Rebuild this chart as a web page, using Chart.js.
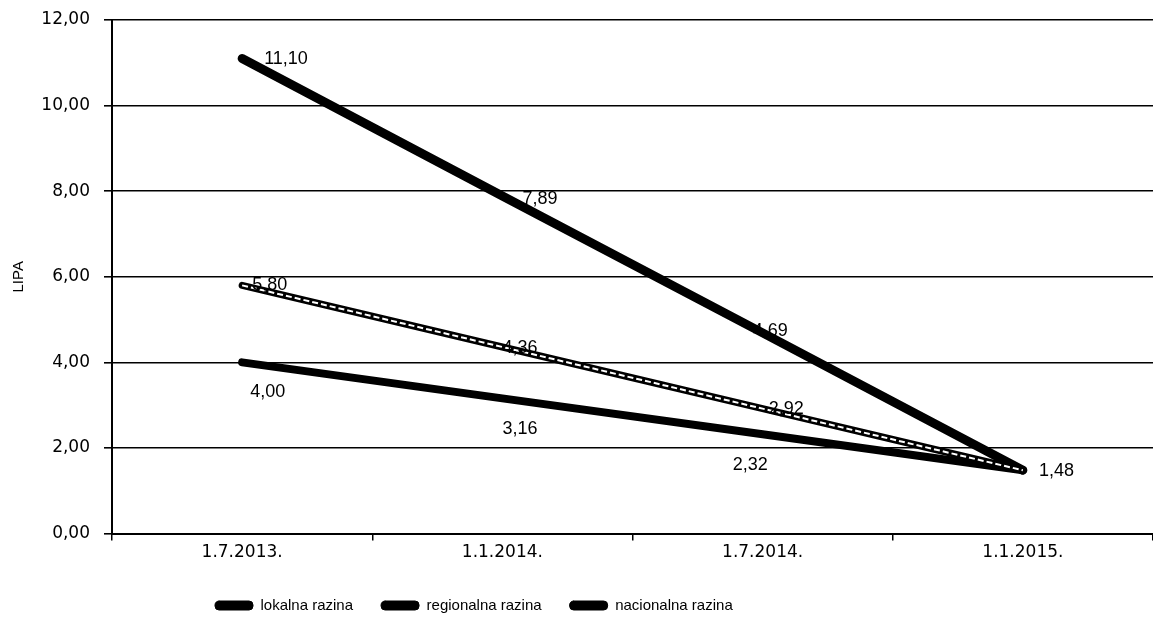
<html lang="hr">
<head>
<meta charset="UTF-8" />
<title>LIPA</title>
<script src="https://cdn.jsdelivr.net/npm/chart.js"></script>
<style>
  body { margin: 0; background: #fff; }
  #wrap { width: 1153px; height: 618px; }
</style>
</head>
<body>
<div id="wrap"><canvas id="chart"></canvas></div>
<script>
  const categories = ["1.7.2013.", "1.1.2014.", "1.7.2014.", "1.1.2015."];
  const lokalna = [11.10, 7.89, 4.69, 1.48];
  const regionalna = [5.80, 4.36, 2.92, 1.48];
  const nacionalna = [4.00, 3.16, 2.32, 1.48];
  const seriesNames = ["lokalna razina", "regionalna razina", "nacionalna razina"];
  const yTicks = [0, 2, 4, 6, 8, 10, 12];

  const fmt = (v) => v.toFixed(2).replace(".", ",");
  const tickFont = { family: "'DejaVu Sans', sans-serif", size: 17 };

  // label offsets per series, per point [dx, dy]
  const labelOffsets = [
    [[22, 1], [20, 3], [-10, -2], null],
    [[10, 0], [0, 1], [6, 0], null],
    [[8, 30], [0, 31], [-30, 31], [16, 1]],
  ];

  const valueLabels = {
    id: "valueLabels",
    beforeDraw(chart) {
      // legend sits left of centre and a little lower in the original
      const lg = chart.legend;
      const w = lg.right - lg.left;
      lg.left = 187;
      lg.right = 187 + w;
      lg.top += 5;
      lg.bottom += 5;
    },
    afterDatasetsDraw(chart) {
      const ctx = chart.ctx;
      // white dashed core of the regional line
      const reg = chart.getDatasetMeta(1);
      ctx.save();
      ctx.strokeStyle = "#fff";
      ctx.lineWidth = 2;
      ctx.setLineDash([6, 3]);
      ctx.beginPath();
      reg.data.forEach((p, i) => (i ? ctx.lineTo(p.x, p.y) : ctx.moveTo(p.x, p.y)));
      ctx.stroke();
      ctx.restore();

      ctx.save();
      ctx.font = "18px 'Liberation Sans', Arial, sans-serif";
      ctx.fillStyle = "#000";
      ctx.textAlign = "left";
      ctx.textBaseline = "middle";
      chart.data.datasets.forEach((ds, di) => {
        const meta = chart.getDatasetMeta(di);
        meta.data.forEach((pt, i) => {
          const off = labelOffsets[di][i];
          if (!off) return;
          ctx.fillText(fmt(ds.data[i]), pt.x + off[0], pt.y + off[1]);
        });
      });
      ctx.restore();
    },
  };

  new Chart(document.getElementById("chart"), {
    type: "line",
    data: {
      labels: categories,
      datasets: [
        {
          label: seriesNames[0],
          data: lokalna,
          borderColor: "#000",
          backgroundColor: "#000",
          borderWidth: 9,
          pointRadius: 0,
          borderCapStyle: "round",
          order: 1,
        },
        {
          label: seriesNames[1],
          data: regionalna,
          borderColor: "#000",
          backgroundColor: "#000",
          borderWidth: 7,
          pointRadius: 0,
          borderCapStyle: "round",
          order: 3,
        },
        {
          label: seriesNames[2],
          data: nacionalna,
          borderColor: "#000",
          backgroundColor: "#000",
          borderWidth: 8,
          pointRadius: 0,
          borderCapStyle: "round",
          order: 2,
        },
      ],
    },
    options: {
      responsive: true,
      maintainAspectRatio: false,
      animation: false,
      layout: { padding: { top: 20, right: -9, left: 0, bottom: 0 } },
      plugins: {
        tooltip: { enabled: false },
        legend: {
          position: "bottom",
          align: "start",
          labels: {
            color: "#000",
            font: { family: "'Liberation Sans', Arial, sans-serif", size: 15 },
            boxWidth: 38,
            boxHeight: 9,
            padding: 28,
            useBorderRadius: true,
            borderRadius: 4,
            sort: (a, b) => a.datasetIndex - b.datasetIndex,
            generateLabels: (chart) =>
              Chart.defaults.plugins.legend.labels
                .generateLabels(chart)
                .map((it) => ({ ...it, lineWidth: 1 })),
          },
        },
      },
      scales: {
        x: {
          offset: true,
          grid: {
            offset: true,
            drawOnChartArea: false,
            color: "#000",
            lineWidth: 1.5,
            tickLength: 7,
          },
          border: { color: "#000", width: 2 },
          ticks: {
            color: "#000",
            font: tickFont,
            padding: 2,
          },
        },
        y: {
          min: 0,
          max: 12,
          afterBuildTicks: (s) => { s.ticks = yTicks.map((v) => ({ value: v })); },
          afterFit: (s) => { s.width = 112; s.paddingTop = 0; },
          grid: { color: "#000", lineWidth: 1.6, tickLength: 8 },
          border: { color: "#000", width: 2 },
          ticks: {
            color: "#000",
            font: tickFont,
            callback: (v) => fmt(v),
            padding: 14,
          },
          title: {
            display: true,
            text: "LIPA",
            color: "#000",
            padding: { top: 10, bottom: 0 },
            font: { family: "'Liberation Sans', Arial, sans-serif", size: 15 },
          },
        },
      },
    },
    plugins: [valueLabels],
  });
</script>
</body>
</html>
